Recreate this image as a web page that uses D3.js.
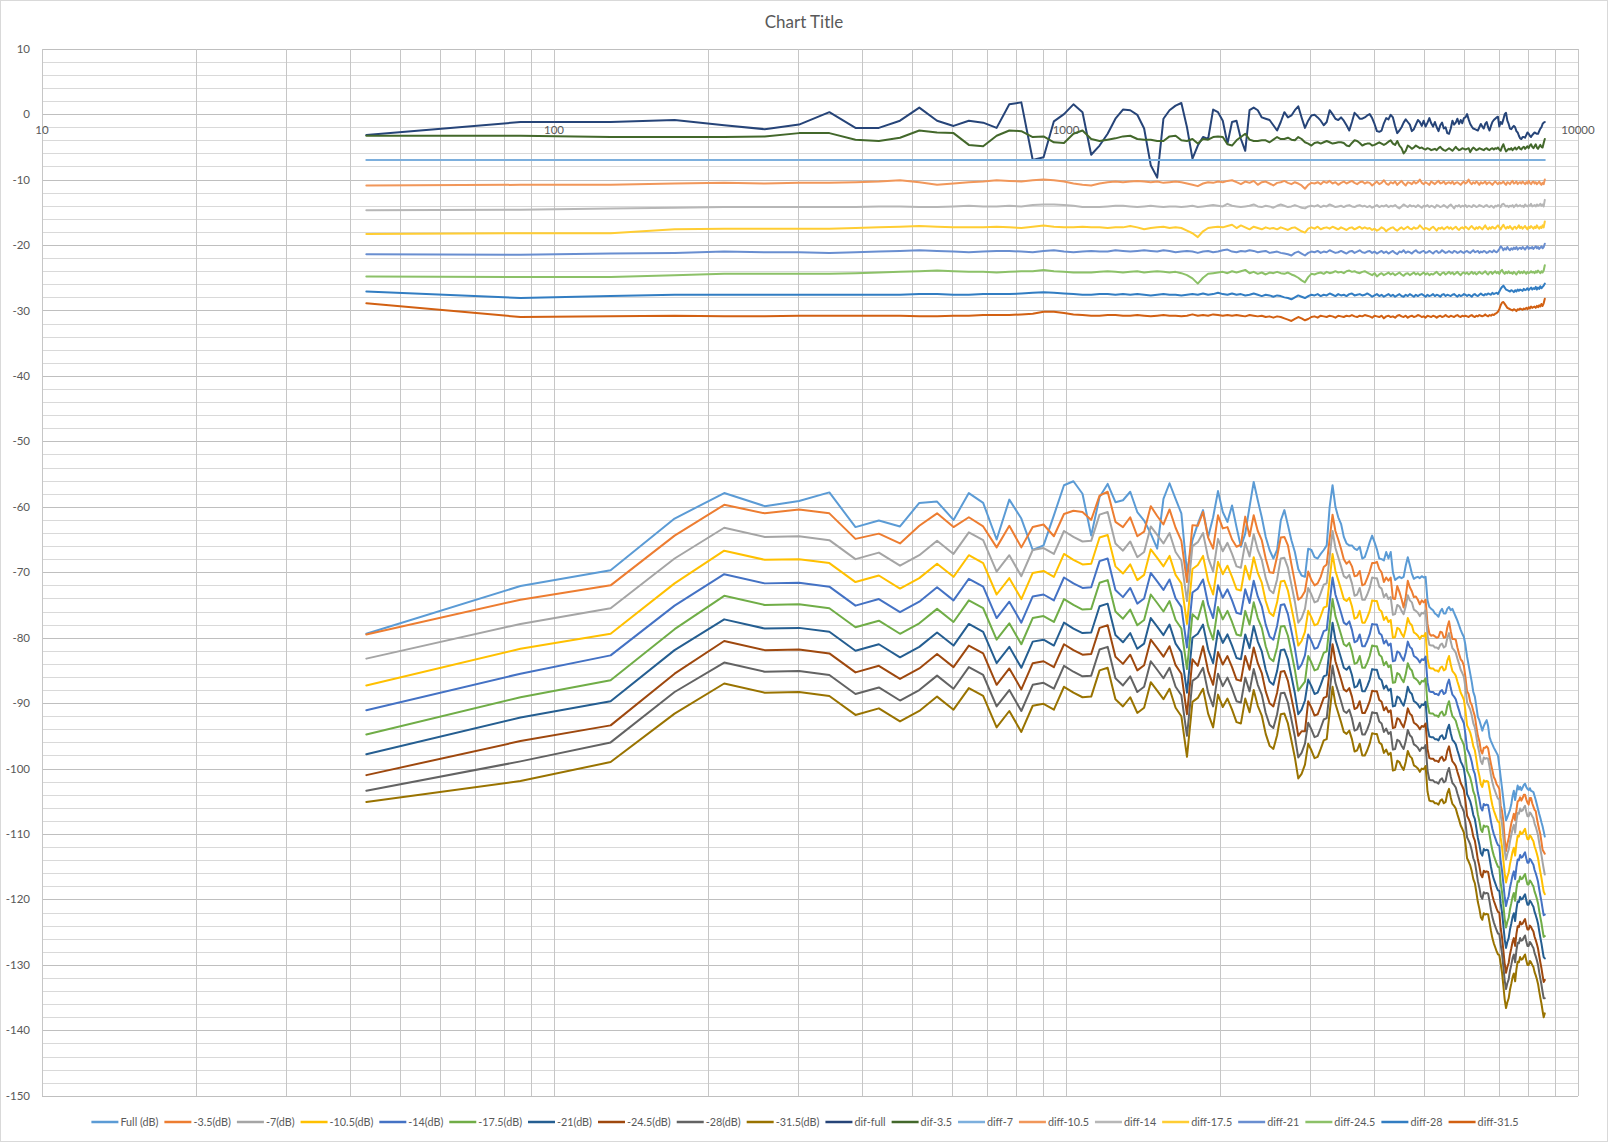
<!DOCTYPE html>
<html>
<head>
<meta charset="utf-8">
<title>Chart Title</title>
<script src="https://cdn.jsdelivr.net/npm/d3@7"></script>
<style>
  body { margin: 0; background: #fff; }
  text { font-family: Lato, "Open Sans", sans-serif; fill: #595959; }
</style>
</head>
<body>
<svg id="chart" width="1608" height="1142"></svg>
<script>
// FFT bin centres (Hz), 44.1 kHz / 1024 points, bins 1..200
var freqHz = [
  43,86,129,172,215,258,301,345,388,431,
  474,517,560,603,646,689,732,775,818,861,
  904,947,991,1034,1077,1120,1163,1206,1249,1292,
  1335,1378,1421,1464,1507,1550,1593,1637,1680,1723,
  1766,1809,1852,1895,1938,1981,2024,2067,2110,2153,
  2196,2239,2283,2326,2369,2412,2455,2498,2541,2584,
  2627,2670,2713,2756,2799,2842,2885,2929,2972,3015,
  3058,3101,3144,3187,3230,3273,3316,3359,3402,3445,
  3488,3531,3575,3618,3661,3704,3747,3790,3833,3876,
  3919,3962,4005,4048,4091,4134,4177,4221,4264,4307,
  4350,4393,4436,4479,4522,4565,4608,4651,4694,4737,
  4780,4823,4867,4910,4953,4996,5039,5082,5125,5168,
  5211,5254,5297,5340,5383,5426,5469,5513,5556,5599,
  5642,5685,5728,5771,5814,5857,5900,5943,5986,6029,
  6072,6115,6159,6202,6245,6288,6331,6374,6417,6460,
  6503,6546,6589,6632,6675,6718,6761,6804,6848,6891,
  6934,6977,7020,7063,7106,7149,7192,7235,7278,7321,
  7364,7407,7450,7494,7537,7580,7623,7666,7709,7752,
  7795,7838,7881,7924,7967,8010,8053,8096,8140,8183,
  8226,8269,8312,8355,8398,8441,8484,8527,8570,8613
];

var fullDb = [
  -79.4,-72.1,-69.7,-61.8,-57.9,-59.9,-59.1,-57.8,-63.1,-62.1,
  -63.0,-59.4,-59.2,-62.0,-57.9,-59.4,-65.0,-58.9,-61.8,-66.6,
  -65.9,-61.3,-56.7,-56.1,-58.0,-64.4,-58.5,-56.5,-59.3,-59.0,
  -57.7,-60.8,-62.1,-64.1,-66.4,-58.8,-56.4,-58.8,-61.0,-70.0,
  -65.1,-62.6,-60.5,-64.6,-61.6,-57.6,-60.8,-62.3,-59.8,-63.1,
  -66.1,-64.1,-60.0,-56.2,-59.0,-61.6,-64.6,-66.6,-67.9,-66.6,
  -62.1,-60.5,-62.8,-65.1,-66.9,-69.5,-70.5,-70.7,-66.4,-66.6,
  -67.7,-67.9,-67.2,-66.6,-65.9,-60.0,-56.7,-60.0,-61.6,-62.6,
  -64.6,-65.6,-65.9,-65.9,-66.4,-66.6,-66.1,-67.9,-67.7,-66.6,
  -65.4,-64.4,-65.4,-66.5,-67.9,-68.0,-68.2,-66.9,-67.9,-66.9,
  -70.0,-71.2,-70.9,-70.7,-70.9,-70.7,-69.0,-67.7,-68.9,-70.2,
  -71.0,-70.8,-70.7,-70.9,-70.6,-70.8,-70.7,-74.3,-75.3,-75.6,
  -75.8,-76.3,-76.5,-76.8,-76.0,-75.6,-76.3,-76.3,-75.6,-75.3,
  -75.8,-75.6,-76.2,-76.8,-77.4,-78.1,-78.8,-79.4,-79.9,-81.2,
  -82.9,-84.2,-85.5,-86.8,-88.3,-89.0,-90.5,-92.1,-92.6,-93.4,
  -94.2,-93.5,-93.0,-92.6,-93.5,-95.2,-95.8,-96.3,-96.8,-97.2,
  -97.6,-98.0,-99.6,-101.3,-103.0,-104.7,-106.4,-107.9,-107.4,-106.9,
  -106.3,-105.5,-104.2,-103.4,-104.8,-103.6,-102.6,-103.2,-102.8,-103.3,
  -102.9,-102.5,-102.3,-102.8,-103.1,-103.3,-103.0,-103.4,-103.5,-103.6,
  -104.2,-104.8,-105.5,-106.2,-106.9,-107.5,-108.2,-108.8,-109.6,-110.4
];

var m35Db = [
  -79.5,-74.2,-72.0,-64.4,-59.7,-61.0,-60.4,-61.0,-64.9,-64.1,
  -65.6,-62.9,-61.0,-63.1,-61.6,-63.0,-66.2,-62.9,-66.2,-63.1,
  -62.7,-64.5,-61.1,-60.6,-60.8,-62.0,-58.3,-57.7,-62.3,-63.1,
  -61.6,-64.5,-63.8,-59.9,-61.4,-62.7,-60.4,-63.2,-65.2,-71.5,
  -62.8,-62.9,-60.8,-64.7,-66.4,-61.3,-63.3,-63.1,-65.0,-66.1,
  -65.8,-61.5,-64.5,-61.3,-63.7,-65.1,-67.9,-70.0,-70.1,-67.6,
  -64.7,-64.6,-65.9,-68.8,-71.5,-74.2,-73.8,-72.9,-69.9,-71.2,
  -72.0,-71.7,-70.7,-69.2,-68.8,-64.9,-61.2,-63.7,-65.0,-66.4,
  -68.0,-68.7,-68.3,-69.1,-70.6,-70.5,-69.8,-72.0,-71.8,-70.9,
  -69.9,-68.6,-68.6,-68.4,-69.5,-70.0,-71.5,-70.8,-71.3,-70.8,
  -74.0,-74.1,-72.1,-73.0,-74.1,-75.4,-73.8,-71.3,-72.3,-72.9,
  -73.8,-73.7,-74.2,-74.9,-74.3,-74.6,-74.2,-77.9,-79.4,-79.7,
  -79.6,-79.8,-80.0,-79.9,-79.1,-79.2,-80.0,-79.9,-78.4,-77.5,
  -79.0,-80.2,-80.2,-80.3,-81.5,-82.5,-83.3,-83.6,-84.3,-86.1,
  -88.2,-88.6,-89.8,-90.3,-91.2,-92.0,-93.6,-95.0,-95.8,-97.2,
  -97.7,-96.8,-96.8,-96.6,-96.9,-98.2,-99.3,-100.3,-101.3,-101.7,
  -102.4,-102.7,-103.1,-105.7,-106.5,-108.1,-110.8,-112.6,-111.5,-110.7,
  -109.5,-108.4,-107.7,-106.9,-107.9,-106.4,-105.0,-104.9,-104.4,-104.9,
  -104.5,-104.0,-104.0,-104.7,-105.2,-105.5,-104.5,-104.5,-105.3,-105.8,
  -106.3,-106.5,-107.6,-108.5,-109.3,-110.0,-111.2,-112.4,-112.7,-113.0
];

var m7Db = [
  -83.2,-77.9,-75.5,-67.9,-63.2,-64.6,-64.5,-65.1,-68.0,-67.0,
  -69.0,-67.4,-65.2,-67.2,-63.9,-65.1,-69.9,-67.4,-70.6,-66.6,
  -66.3,-67.2,-63.7,-64.6,-65.3,-65.2,-61.2,-60.8,-65.6,-66.7,
  -65.3,-67.7,-66.9,-63.0,-64.3,-65.6,-64.0,-66.9,-68.2,-74.4,
  -66.0,-65.4,-64.0,-67.8,-69.9,-64.9,-66.8,-65.5,-67.2,-69.1,
  -69.3,-65.5,-67.6,-64.2,-66.6,-68.1,-70.9,-72.7,-73.2,-71.1,
  -67.9,-67.8,-69.3,-71.9,-74.5,-77.7,-77.0,-75.6,-72.4,-73.4,
  -74.6,-74.4,-73.2,-71.9,-71.7,-67.6,-63.7,-66.3,-67.7,-69.1,
  -70.6,-70.9,-70.4,-71.7,-73.6,-73.4,-72.4,-74.2,-74.2,-73.4,
  -72.4,-70.8,-70.9,-70.9,-72.2,-72.5,-73.8,-73.3,-74.1,-73.8,
  -76.5,-76.4,-75.0,-75.2,-75.9,-76.4,-75.2,-73.5,-74.3,-74.6,
  -75.7,-75.9,-76.2,-76.7,-76.2,-76.3,-75.8,-79.7,-81.1,-81.2,
  -81.2,-81.5,-81.5,-81.7,-81.1,-80.9,-81.5,-81.3,-80.0,-79.3,
  -80.6,-81.6,-81.9,-82.3,-83.2,-84.0,-84.9,-85.4,-86.0,-87.7,
  -89.9,-90.4,-91.0,-91.9,-93.1,-93.7,-95.1,-96.6,-97.6,-98.9,
  -99.3,-98.3,-98.5,-98.4,-98.5,-99.7,-101.0,-102.1,-102.9,-103.5,
  -104.1,-104.6,-104.7,-107.1,-108.5,-110.5,-112.6,-113.9,-113.0,-112.4,
  -111.1,-110.2,-109.2,-108.6,-109.8,-108.0,-106.8,-106.9,-106.1,-106.5,
  -106.4,-106.0,-105.7,-106.6,-107.3,-107.3,-106.7,-106.9,-107.3,-107.6,
  -108.4,-108.9,-109.5,-110.2,-111.3,-112.3,-113.2,-114.3,-115.3,-116.2
];

var m105Db = [
  -87.3,-81.7,-79.4,-71.7,-66.7,-68.1,-68.0,-68.6,-71.5,-70.5,
  -72.5,-70.9,-68.7,-70.7,-67.4,-68.6,-73.4,-70.9,-74.1,-70.1,
  -69.8,-70.7,-67.2,-68.1,-68.8,-68.7,-64.7,-64.3,-69.1,-70.2,
  -68.8,-71.2,-70.4,-66.5,-67.8,-69.1,-67.5,-70.4,-71.7,-77.9,
  -69.5,-68.9,-67.5,-71.3,-73.4,-68.4,-70.3,-69.0,-70.7,-72.6,
  -72.8,-69.0,-71.1,-67.7,-70.1,-71.6,-74.4,-76.2,-76.7,-74.6,
  -71.4,-71.3,-72.8,-75.4,-78.0,-81.2,-80.5,-79.1,-75.9,-76.9,
  -78.1,-77.9,-76.7,-75.4,-75.2,-71.1,-67.2,-69.8,-71.2,-72.6,
  -74.1,-74.4,-73.9,-75.2,-77.1,-76.9,-75.9,-77.7,-77.7,-76.9,
  -75.9,-74.3,-74.4,-74.4,-75.7,-76.0,-77.3,-76.8,-77.6,-77.3,
  -80.0,-79.9,-78.5,-78.7,-79.4,-79.9,-78.7,-77.0,-77.8,-78.1,
  -79.2,-79.4,-79.7,-80.2,-79.7,-79.8,-79.3,-83.2,-84.6,-84.7,
  -84.7,-85.0,-85.0,-85.2,-84.6,-84.4,-85.0,-84.8,-83.5,-82.8,
  -84.1,-85.1,-85.4,-85.8,-86.7,-87.5,-88.4,-88.9,-89.5,-91.2,
  -93.4,-93.9,-94.5,-95.4,-96.6,-97.2,-98.6,-100.1,-101.1,-102.4,
  -102.8,-101.8,-102.0,-101.9,-102.0,-103.2,-104.5,-105.6,-106.4,-107.0,
  -107.6,-108.1,-108.2,-110.6,-112.0,-114.0,-116.1,-117.4,-116.5,-115.9,
  -114.6,-113.7,-112.7,-112.1,-113.3,-111.5,-110.3,-110.4,-109.6,-110.0,
  -109.9,-109.5,-109.2,-110.1,-110.8,-110.8,-110.2,-110.4,-110.8,-111.1,
  -111.9,-112.4,-113.0,-113.7,-114.8,-115.8,-116.7,-117.8,-118.8,-119.2
];

var m14Db = [
  -91.1,-85.5,-82.7,-75.1,-70.3,-71.7,-71.6,-72.2,-75.1,-74.1,
  -76.1,-74.5,-72.3,-74.3,-71.0,-72.2,-77.0,-74.5,-77.7,-73.7,
  -73.4,-74.3,-70.8,-71.7,-72.4,-72.3,-68.3,-67.9,-72.7,-73.8,
  -72.4,-74.8,-74.0,-70.1,-71.4,-72.7,-71.1,-74.0,-75.3,-81.5,
  -73.1,-72.5,-71.1,-74.9,-77.0,-72.0,-73.9,-72.6,-74.3,-76.2,
  -76.4,-72.6,-74.7,-71.3,-73.7,-75.2,-78.0,-79.8,-80.3,-78.2,
  -75.0,-74.9,-76.4,-79.0,-81.6,-84.8,-84.1,-82.7,-79.5,-80.5,
  -81.7,-81.5,-80.3,-79.0,-78.8,-74.7,-70.8,-73.4,-74.8,-76.2,
  -77.7,-78.0,-77.5,-78.8,-80.7,-80.5,-79.5,-81.3,-81.3,-80.5,
  -79.5,-77.9,-78.0,-78.0,-79.3,-79.6,-80.9,-80.4,-81.2,-80.9,
  -83.6,-83.5,-82.1,-82.3,-83.0,-83.5,-82.3,-80.6,-81.4,-81.7,
  -82.8,-83.0,-83.3,-83.8,-83.3,-83.4,-82.9,-86.8,-88.2,-88.3,
  -88.3,-88.6,-88.6,-88.8,-88.2,-88.0,-88.6,-88.4,-87.1,-86.4,
  -87.7,-88.7,-89.0,-89.4,-90.3,-91.1,-92.0,-92.5,-93.1,-94.8,
  -97.0,-97.5,-98.1,-99.0,-100.2,-100.8,-102.2,-103.7,-104.7,-106.0,
  -106.4,-105.4,-105.6,-105.5,-105.6,-106.8,-108.1,-109.2,-110.0,-110.6,
  -111.2,-111.7,-111.8,-114.2,-115.6,-117.6,-119.7,-121.0,-120.1,-119.5,
  -118.2,-117.3,-116.3,-115.7,-116.9,-115.1,-113.9,-114.0,-113.2,-113.6,
  -113.5,-113.1,-112.8,-113.7,-114.4,-114.4,-113.8,-114.0,-114.4,-114.7,
  -115.5,-116.0,-116.6,-117.3,-118.4,-119.4,-120.3,-121.4,-122.4,-122.3
];

var m175Db = [
  -94.8,-89.1,-86.5,-78.7,-73.6,-75.0,-74.9,-75.5,-78.4,-77.4,
  -79.4,-77.8,-75.6,-77.6,-74.3,-75.5,-80.3,-77.8,-81.0,-77.0,
  -76.7,-77.6,-74.1,-75.0,-75.7,-75.6,-71.6,-71.2,-76.0,-77.1,
  -75.7,-78.1,-77.3,-73.4,-74.7,-76.0,-74.4,-77.3,-78.6,-84.8,
  -76.4,-77.2,-74.4,-78.2,-80.3,-75.3,-77.2,-75.9,-77.6,-79.5,
  -79.7,-75.9,-78.0,-74.6,-77.0,-78.5,-81.3,-83.1,-83.6,-81.5,
  -78.3,-78.2,-79.7,-82.3,-84.9,-88.1,-87.4,-86.7,-82.8,-83.8,
  -85.0,-84.8,-83.6,-82.3,-82.1,-78.0,-74.1,-76.7,-78.1,-79.5,
  -81.0,-81.3,-80.8,-82.1,-84.0,-83.8,-82.8,-84.6,-84.6,-83.8,
  -82.8,-81.2,-81.3,-81.3,-82.6,-82.9,-84.2,-83.7,-84.5,-84.2,
  -86.9,-86.8,-85.4,-85.6,-86.3,-86.8,-85.6,-83.9,-84.7,-85.0,
  -86.1,-86.3,-86.6,-87.1,-86.6,-86.7,-86.2,-90.1,-91.5,-91.6,
  -91.6,-91.9,-91.9,-92.1,-91.5,-91.3,-91.9,-91.7,-90.4,-89.7,
  -91.0,-92.0,-92.3,-92.7,-93.6,-94.4,-95.3,-95.8,-96.4,-98.1,
  -100.3,-100.8,-101.4,-102.3,-103.5,-104.1,-105.5,-107.0,-108.0,-109.3,
  -109.7,-108.7,-108.9,-108.8,-108.9,-110.1,-111.4,-112.5,-113.3,-113.9,
  -114.5,-115.0,-115.1,-117.5,-118.9,-120.9,-123.0,-124.3,-123.4,-122.8,
  -121.5,-120.6,-119.6,-119.0,-120.2,-118.4,-117.2,-117.3,-116.5,-116.9,
  -116.8,-116.4,-116.1,-117.0,-117.7,-117.7,-117.1,-117.3,-117.7,-118.0,
  -118.8,-119.3,-119.9,-120.6,-121.7,-122.7,-123.6,-124.7,-125.7,-125.6
];

var m21Db = [
  -97.8,-92.2,-89.7,-81.9,-77.2,-78.6,-78.5,-79.1,-82.0,-81.0,
  -83.0,-81.4,-79.2,-81.2,-77.9,-79.1,-83.9,-81.4,-84.6,-80.6,
  -80.3,-81.2,-77.7,-78.6,-79.3,-79.2,-75.2,-74.8,-79.6,-80.7,
  -79.3,-81.7,-80.9,-77.0,-78.3,-79.6,-78.0,-80.9,-82.2,-88.4,
  -80.0,-79.4,-78.0,-81.8,-83.9,-78.9,-80.8,-79.5,-81.2,-83.1,
  -83.3,-79.5,-81.6,-78.2,-80.6,-82.1,-84.9,-86.7,-87.2,-85.1,
  -81.9,-81.8,-83.3,-85.9,-88.5,-91.7,-91.0,-89.6,-86.4,-87.4,
  -88.6,-88.4,-87.2,-85.9,-85.7,-81.6,-77.7,-80.3,-81.7,-83.1,
  -84.6,-84.9,-84.4,-85.7,-87.6,-87.4,-86.4,-88.2,-88.2,-87.4,
  -86.4,-84.8,-84.9,-84.9,-86.2,-86.5,-87.8,-87.3,-88.1,-87.8,
  -90.5,-90.4,-89.0,-89.2,-89.9,-90.4,-89.2,-87.5,-88.3,-88.6,
  -89.7,-89.9,-90.2,-90.7,-90.2,-90.3,-89.8,-93.7,-95.1,-95.2,
  -95.2,-95.5,-95.5,-95.7,-95.1,-94.9,-95.5,-95.3,-94.0,-93.3,
  -94.6,-95.6,-95.9,-96.3,-97.2,-98.0,-98.9,-99.4,-100.0,-101.7,
  -103.9,-104.4,-105.0,-105.9,-107.1,-107.7,-109.1,-110.6,-111.6,-112.9,
  -113.3,-112.3,-112.5,-112.4,-112.5,-113.7,-115.0,-116.1,-116.9,-117.5,
  -118.1,-118.6,-118.7,-120.6,-122.0,-124.0,-126.1,-127.4,-126.5,-125.9,
  -124.6,-123.7,-122.7,-122.1,-123.3,-121.5,-120.3,-120.4,-119.6,-120.0,
  -119.9,-119.5,-119.2,-120.1,-120.8,-120.8,-120.2,-120.4,-120.8,-121.1,
  -121.9,-122.4,-123.0,-123.7,-124.8,-125.8,-126.7,-127.8,-128.8,-129.0
];

var m245Db = [
  -101.0,-95.8,-93.4,-85.5,-80.5,-81.9,-81.8,-82.4,-85.3,-84.3,
  -86.3,-84.7,-82.5,-84.5,-81.2,-82.4,-87.2,-84.7,-87.9,-83.9,
  -83.6,-84.5,-81.0,-81.9,-82.6,-82.5,-78.5,-78.1,-82.9,-84.0,
  -82.6,-85.0,-84.2,-80.3,-81.6,-82.9,-81.3,-84.2,-85.5,-91.7,
  -83.3,-84.3,-81.3,-85.1,-87.2,-82.2,-84.1,-82.8,-84.5,-86.4,
  -86.6,-82.8,-84.9,-81.5,-83.9,-85.4,-88.2,-90.0,-90.5,-88.4,
  -85.2,-85.1,-86.6,-89.2,-91.8,-95.0,-94.3,-94.3,-89.7,-90.7,
  -91.9,-91.7,-90.5,-89.2,-89.0,-84.9,-81.0,-83.6,-85.0,-86.4,
  -87.9,-88.2,-87.7,-89.0,-90.9,-90.7,-89.7,-91.5,-91.5,-90.7,
  -89.7,-88.1,-88.2,-88.2,-89.5,-89.8,-91.1,-90.6,-91.4,-91.1,
  -93.8,-93.7,-92.3,-92.5,-93.2,-93.7,-92.5,-90.8,-91.6,-91.9,
  -93.0,-93.2,-93.5,-94.0,-93.5,-93.6,-93.1,-97.0,-98.4,-98.5,
  -98.5,-98.8,-98.8,-99.0,-98.4,-98.2,-98.8,-98.6,-97.3,-96.6,
  -97.9,-98.9,-99.2,-99.6,-100.5,-101.3,-102.2,-102.7,-103.3,-105.0,
  -107.2,-107.7,-108.3,-109.2,-110.4,-111.0,-112.4,-113.9,-114.9,-116.2,
  -116.6,-115.6,-115.8,-115.7,-115.8,-117.0,-118.3,-119.4,-120.2,-120.8,
  -121.4,-121.9,-122.0,-124.4,-125.8,-127.8,-129.9,-131.2,-130.3,-129.7,
  -128.4,-127.5,-126.5,-125.9,-127.1,-125.3,-124.1,-124.2,-123.4,-123.8,
  -123.7,-123.3,-123.0,-123.9,-124.6,-124.6,-124.0,-124.2,-124.6,-124.9,
  -125.7,-126.2,-126.8,-127.5,-128.6,-129.6,-130.5,-131.6,-132.6,-132.3
];

var m28Db = [
  -103.4,-98.9,-96.0,-88.3,-83.8,-85.2,-85.1,-85.7,-88.6,-87.6,
  -89.6,-88.0,-85.8,-87.8,-84.5,-85.7,-90.5,-88.0,-91.2,-87.2,
  -86.9,-87.8,-84.3,-85.2,-85.9,-85.8,-81.8,-81.4,-86.2,-87.3,
  -85.9,-88.3,-87.5,-83.6,-84.9,-86.2,-84.6,-87.5,-88.8,-95.0,
  -86.6,-86.0,-84.6,-88.4,-90.5,-85.5,-87.4,-86.1,-87.8,-89.7,
  -89.9,-86.1,-88.2,-84.8,-87.2,-88.7,-91.5,-93.3,-93.8,-91.7,
  -88.5,-88.4,-89.9,-92.5,-95.1,-98.3,-97.6,-96.2,-93.0,-94.0,
  -95.2,-95.0,-93.8,-92.5,-92.3,-88.2,-84.3,-86.9,-88.3,-89.7,
  -91.2,-91.5,-91.0,-92.3,-94.2,-94.0,-93.0,-94.8,-94.8,-94.0,
  -93.0,-91.4,-91.5,-91.5,-92.8,-93.1,-94.4,-93.9,-94.7,-94.4,
  -97.1,-97.0,-95.6,-95.8,-96.5,-97.0,-95.8,-94.1,-94.9,-95.2,
  -96.3,-96.5,-96.8,-97.3,-96.8,-96.9,-96.4,-100.3,-101.7,-101.8,
  -101.8,-102.1,-102.1,-102.3,-101.7,-101.5,-102.1,-101.9,-100.6,-99.9,
  -101.2,-102.2,-102.5,-102.9,-103.8,-104.6,-105.5,-106.0,-106.6,-108.3,
  -110.5,-111.0,-111.6,-112.5,-113.7,-114.3,-115.7,-117.2,-118.2,-119.5,
  -119.9,-118.9,-119.1,-119.0,-119.1,-120.3,-121.6,-122.7,-123.5,-124.1,
  -124.7,-125.2,-125.3,-126.9,-128.3,-130.3,-132.4,-133.7,-132.8,-132.2,
  -130.9,-130.0,-129.0,-128.4,-129.6,-127.8,-126.6,-126.7,-125.9,-126.3,
  -126.2,-125.8,-125.5,-126.4,-127.1,-127.1,-126.5,-126.7,-127.1,-127.4,
  -128.2,-128.7,-129.3,-130.0,-131.1,-132.1,-133.0,-134.1,-135.1,-135.1
];

var m315Db = [
  -105.1,-101.9,-99.0,-91.6,-87.0,-88.4,-88.3,-88.9,-91.8,-90.8,
  -92.8,-91.2,-89.0,-91.0,-87.7,-88.9,-93.7,-91.2,-94.4,-90.4,
  -90.1,-91.0,-87.5,-88.4,-89.1,-89.0,-85.0,-84.6,-89.4,-90.5,
  -89.1,-91.5,-90.7,-86.8,-88.1,-89.4,-87.8,-90.7,-92.0,-98.2,
  -89.8,-89.2,-87.8,-91.6,-93.7,-88.7,-90.6,-89.3,-91.0,-92.9,
  -93.1,-89.3,-91.4,-88.0,-90.4,-91.9,-94.7,-96.5,-97.0,-94.9,
  -91.7,-91.6,-93.1,-95.7,-98.3,-101.5,-100.8,-99.4,-96.2,-97.2,
  -98.4,-98.2,-97.0,-95.7,-95.5,-91.4,-87.5,-90.1,-91.5,-92.9,
  -94.4,-94.7,-94.2,-95.5,-97.4,-97.2,-96.2,-98.0,-98.0,-97.2,
  -96.2,-94.6,-94.7,-94.7,-96.0,-96.3,-97.6,-97.1,-97.9,-97.6,
  -100.3,-100.2,-98.8,-99.0,-99.7,-100.2,-99.0,-97.3,-98.1,-98.4,
  -99.5,-99.7,-100.0,-100.5,-100.0,-100.1,-99.6,-103.5,-104.9,-105.0,
  -105.0,-105.3,-105.3,-105.5,-104.9,-104.7,-105.3,-105.1,-103.8,-103.1,
  -104.4,-105.4,-105.7,-106.1,-107.0,-107.8,-108.7,-109.2,-109.8,-111.5,
  -113.7,-114.2,-114.8,-115.7,-116.9,-117.5,-118.9,-120.4,-121.4,-122.7,
  -123.1,-122.1,-122.3,-122.2,-122.3,-123.5,-124.8,-125.9,-126.7,-127.3,
  -127.9,-128.4,-128.5,-129.8,-131.2,-133.2,-135.3,-136.6,-135.7,-135.1,
  -133.8,-132.9,-131.9,-131.3,-132.5,-130.7,-129.5,-129.6,-128.8,-129.2,
  -129.1,-128.7,-128.4,-129.3,-130.0,-130.0,-129.4,-129.6,-130.0,-130.3,
  -131.1,-131.6,-132.2,-132.9,-134.0,-135.0,-135.9,-137.0,-138.0,-137.4
];

var difFull = [
  -3.2,-1.2,-1.2,-0.9,-1.7,-2.3,-1.6,0.3,-2.1,-2.1,
  -1.0,1.0,-1.0,-1.8,-1.0,-1.3,-2.1,1.5,1.8,-7.0,
  -6.6,-1.1,0.0,1.5,0.3,-6.2,-4.8,-3.0,-0.7,0.7,
  0.6,-0.1,-2.2,-7.8,-9.7,-0.7,0.6,1.3,1.7,-2.0,
  -6.8,-4.8,-3.5,-3.8,0.7,0.3,-1.0,-4.5,-1.2,-1.0,
  -3.8,-5.6,0.6,1.0,0.6,-0.5,-0.7,-0.9,-1.7,-2.5,
  -1.2,0.3,-0.5,-0.2,0.6,1.2,-0.5,-2.1,-1.0,-0.2,
  -0.1,-0.5,-1.0,-1.7,-1.2,0.6,0.0,-0.7,-0.9,-0.5,
  -1.0,-1.7,-2.5,-1.2,0.2,-0.2,-0.7,-0.7,-0.5,-0.2,
  0.0,-0.6,-1.5,-2.6,-2.7,-2.5,-1.4,-0.6,-0.8,-0.1,
  -0.5,-1.8,-2.9,-2.5,-2.0,-1.3,-0.8,-1.2,-1.6,-2.6,
  -2.3,-1.6,-0.9,-1.2,-1.8,-1.0,-1.9,-1.3,-0.6,-1.4,
  -1.9,-1.2,-2.0,-2.6,-1.7,-1.3,-2.2,-2.0,-2.9,-3.0,
  -2.2,-1.0,-1.6,-1.3,-0.7,-1.5,-0.9,-1.4,-0.6,-0.5,
  0.0,-0.8,-1.5,-1.9,-2.2,-2.3,-2.4,-2.5,-2.0,-1.5,
  -1.9,-2.2,-1.5,-1.2,-2.0,-2.5,-1.8,-1.2,-0.9,-0.7,
  -0.5,-0.4,-1.9,-1.2,-1.5,-0.8,0.0,0.2,-1.0,-1.5,
  -2.2,-2.3,-2.0,-1.8,-2.0,-2.6,-2.8,-3.3,-3.7,-3.8,
  -3.5,-3.5,-3.6,-3.2,-2.8,-3.0,-3.3,-3.5,-3.2,-3.0,
  -2.8,-2.9,-3.0,-3.0,-2.6,-2.2,-2.0,-1.5,-1.3,-1.2
];

var dif35 = [
  -3.3,-3.3,-3.5,-3.5,-3.5,-3.4,-2.9,-2.9,-3.9,-4.1,
  -3.6,-2.5,-2.8,-2.9,-4.7,-4.9,-3.3,-2.5,-2.6,-3.5,
  -3.4,-4.3,-4.4,-3.0,-2.5,-3.8,-4.1,-3.9,-3.7,-3.4,
  -3.3,-3.8,-3.9,-3.9,-4.1,-4.1,-3.4,-3.3,-4.0,-4.1,
  -3.8,-4.5,-3.8,-3.9,-3.5,-3.4,-3.5,-4.6,-4.8,-4.0,
  -3.5,-3.0,-3.9,-4.1,-4.1,-4.0,-4.0,-4.3,-3.9,-3.5,
  -3.8,-3.8,-3.6,-3.9,-4.0,-3.5,-3.8,-4.3,-4.5,-4.8,
  -4.4,-4.3,-4.5,-4.3,-4.1,-4.3,-4.5,-4.4,-4.3,-4.3,
  -4.4,-4.8,-4.9,-4.4,-4.0,-4.1,-4.4,-4.8,-4.6,-4.5,
  -4.5,-4.8,-4.7,-4.5,-4.3,-4.5,-4.7,-4.5,-4.2,-4.0,
  -4.5,-4.7,-4.1,-4.8,-5.2,-6.0,-5.6,-4.8,-5.0,-5.3,
  -5.1,-4.8,-5.0,-5.2,-5.1,-5.3,-5.4,-5.2,-5.3,-5.5,
  -5.4,-5.3,-5.5,-5.2,-5.0,-5.3,-5.5,-5.6,-5.4,-5.2,
  -5.4,-5.6,-5.3,-5.0,-5.3,-5.5,-5.4,-5.2,-5.3,-5.4,
  -5.3,-5.2,-5.8,-5.4,-5.1,-5.3,-5.5,-5.4,-5.2,-5.3,
  -5.4,-5.5,-5.3,-5.2,-5.4,-5.5,-5.3,-5.2,-5.4,-5.2,
  -5.3,-5.1,-5.4,-5.6,-5.0,-4.6,-5.2,-5.7,-5.5,-5.3,
  -5.4,-5.2,-5.5,-5.3,-5.1,-5.4,-5.2,-5.0,-5.3,-5.4,
  -5.1,-5.0,-5.3,-5.1,-4.9,-5.2,-4.8,-4.6,-5.0,-5.2,
  -4.9,-4.6,-5.1,-5.3,-5.0,-4.7,-5.0,-5.1,-4.4,-3.8
];

var diff7 = [
  -7,-7,-7,-7,-7,-7,-7,-7,-7,-7, -7,-7,-7,-7,-7,-7,-7,-7,-7,-7,
  -7,-7,-7,-7,-7,-7,-7,-7,-7,-7, -7,-7,-7,-7,-7,-7,-7,-7,-7,-7,
  -7,-7,-7,-7,-7,-7,-7,-7,-7,-7, -7,-7,-7,-7,-7,-7,-7,-7,-7,-7,
  -7,-7,-7,-7,-7,-7,-7,-7,-7,-7, -7,-7,-7,-7,-7,-7,-7,-7,-7,-7,
  -7,-7,-7,-7,-7,-7,-7,-7,-7,-7, -7,-7,-7,-7,-7,-7,-7,-7,-7,-7,
  -7,-7,-7,-7,-7,-7,-7,-7,-7,-7, -7,-7,-7,-7,-7,-7,-7,-7,-7,-7,
  -7,-7,-7,-7,-7,-7,-7,-7,-7,-7, -7,-7,-7,-7,-7,-7,-7,-7,-7,-7,
  -7,-7,-7,-7,-7,-7,-7,-7,-7,-7, -7,-7,-7,-7,-7,-7,-7,-7,-7,-7,
  -7,-7,-7,-7,-7,-7,-7,-7,-7,-7, -7,-7,-7,-7,-7,-7,-7,-7,-7,-7,
  -7,-7,-7,-7,-7,-7,-7,-7,-7,-7, -7,-7,-7,-7,-7,-7,-7,-7,-7,-7
];

var diff105 = [
  -10.9,-10.8,-10.8,-10.6,-10.5,-10.6,-10.5,-10.5,-10.4,-10.3,
  -10.1,-10.4,-10.8,-10.6,-10.4,-10.3,-10.1,-10.2,-10.3,-10.1,
  -10.0,-10.1,-10.3,-10.6,-10.8,-10.9,-10.6,-10.4,-10.3,-10.4,
  -10.3,-10.2,-10.3,-10.4,-10.3,-10.5,-10.4,-10.3,-10.4,-10.6,
  -10.8,-11.0,-10.6,-10.4,-10.5,-10.3,-10.4,-10.2,-10.1,-10.4,
  -10.7,-10.3,-10.5,-10.2,-10.8,-10.4,-10.3,-10.6,-10.9,-10.5,
  -10.4,-10.2,-10.5,-10.7,-10.4,-10.6,-10.9,-11.4,-10.8,-10.5,
  -10.6,-10.4,-10.7,-10.3,-10.5,-10.2,-10.6,-10.4,-10.8,-10.5,
  -10.3,-10.6,-10.4,-10.2,-10.5,-10.7,-10.4,-10.3,-10.6,-10.4,
  -10.5,-10.9,-10.6,-10.3,-10.7,-10.5,-10.1,-10.6,-10.8,-10.4,
  -10.6,-10.3,-10.8,-10.5,-10.2,-10.6,-10.9,-10.4,-10.5,-10.7,
  -10.3,-10.6,-10.4,-10.0,-10.5,-10.7,-10.4,-10.6,-10.8,-10.3,
  -10.5,-10.7,-10.4,-10.2,-10.6,-10.5,-10.3,-10.7,-10.5,-10.4,
  -10.6,-10.3,-10.7,-10.5,-10.4,-10.6,-10.8,-10.5,-10.3,-10.6,
  -10.4,-10.0,-10.5,-10.7,-10.4,-10.6,-10.3,-10.5,-10.8,-10.4,
  -10.6,-10.5,-10.3,-10.7,-10.5,-10.4,-10.6,-10.8,-10.5,-10.3,
  -10.5,-10.7,-10.4,-10.6,-10.5,-10.3,-10.6,-10.8,-10.4,-10.5,
  -10.7,-10.4,-10.2,-10.6,-10.5,-10.3,-10.7,-10.5,-10.4,-10.6,
  -10.3,-10.5,-10.7,-10.4,-10.6,-10.2,-10.5,-10.7,-10.4,-10.3,
  -10.6,-10.4,-10.7,-10.5,-10.3,-10.6,-10.8,-10.5,-10.7,-10.0
];

var diff14 = [
  -14.7,-14.6,-14.4,-14.3,-14.2,-14.2,-14.2,-14.2,-14.2,-14.1,
  -14.1,-14.2,-14.2,-14.1,-14.0,-14.1,-14.1,-14.0,-14.1,-13.9,
  -13.8,-13.8,-13.9,-14.0,-14.2,-14.2,-14.2,-14.1,-14.0,-14.0,
  -14.1,-14.2,-14.1,-14.0,-14.1,-14.2,-14.1,-14.1,-14.2,-14.1,
  -14.0,-14.2,-14.1,-14.0,-13.9,-14.0,-14.1,-13.7,-14.0,-14.1,
  -14.2,-14.1,-14.0,-13.8,-14.1,-14.2,-14.0,-14.1,-14.3,-14.0,
  -13.8,-14.0,-14.2,-14.1,-13.9,-14.1,-14.3,-14.4,-14.1,-14.0,
  -14.1,-13.9,-14.2,-14.0,-14.1,-13.8,-14.0,-14.2,-14.1,-14.0,
  -14.2,-14.0,-13.9,-14.1,-14.2,-14.0,-13.9,-14.1,-14.0,-14.2,
  -14.0,-14.3,-14.1,-13.9,-14.2,-14.0,-14.1,-13.9,-14.2,-14.0,
  -14.1,-13.9,-14.2,-14.4,-14.1,-13.8,-14.0,-14.2,-13.9,-14.1,
  -14.0,-14.2,-13.9,-14.1,-14.3,-14.0,-14.1,-13.9,-14.2,-14.0,
  -14.1,-14.3,-13.9,-14.0,-14.2,-14.1,-13.9,-14.1,-14.3,-14.0,
  -13.8,-14.1,-14.4,-14.0,-14.1,-13.9,-14.2,-14.0,-14.1,-13.9,
  -14.2,-14.0,-14.1,-14.2,-13.9,-14.0,-14.2,-14.1,-13.9,-14.0,
  -14.1,-14.2,-14.0,-13.9,-14.1,-14.2,-14.0,-14.1,-14.3,-14.0,
  -14.1,-13.9,-14.0,-14.2,-13.8,-13.7,-13.9,-14.1,-14.0,-14.2,
  -14.0,-14.1,-13.9,-14.2,-14.0,-13.8,-14.1,-14.0,-13.9,-14.1,
  -14.0,-14.2,-13.8,-14.0,-14.1,-13.9,-14.0,-13.7,-14.1,-14.0,
  -13.9,-14.1,-13.8,-14.0,-13.9,-13.7,-14.0,-13.8,-14.1,-13.1
];

var diff175 = [
  -18.3,-18.2,-18.2,-17.6,-17.5,-17.5,-17.5,-17.5,-17.4,-17.3,
  -17.2,-17.1,-17.2,-17.3,-17.3,-17.3,-17.2,-17.3,-17.4,-17.2,
  -17.0,-17.2,-17.3,-17.3,-17.2,-17.3,-17.3,-17.4,-17.3,-17.3,
  -17.1,-17.3,-17.6,-17.4,-17.3,-17.2,-17.4,-17.3,-17.4,-17.8,
  -18.2,-18.8,-17.9,-17.4,-17.3,-17.2,-17.3,-17.1,-16.9,-17.4,
  -17.0,-17.3,-17.6,-17.2,-17.4,-17.6,-17.3,-17.5,-17.4,-17.6,
  -17.3,-17.5,-17.7,-17.4,-17.3,-17.6,-17.9,-18.1,-17.5,-17.3,
  -17.5,-17.2,-17.6,-17.4,-17.3,-17.5,-17.2,-17.4,-17.6,-17.3,
  -17.5,-17.7,-17.4,-17.3,-17.6,-17.4,-17.2,-17.5,-17.3,-17.5,
  -17.4,-17.7,-17.5,-17.8,-17.6,-17.3,-17.5,-17.9,-17.6,-17.4,
  -17.3,-17.6,-17.8,-17.5,-17.3,-17.6,-17.4,-17.2,-17.5,-17.6,
  -17.3,-17.5,-17.4,-17.0,-17.3,-17.6,-17.4,-17.5,-17.7,-17.4,
  -17.2,-17.5,-17.8,-17.4,-17.5,-17.3,-17.6,-17.4,-17.2,-17.5,
  -17.3,-17.6,-17.4,-17.2,-17.5,-17.7,-17.4,-17.3,-17.5,-17.2,
  -17.4,-17.6,-17.3,-17.1,-17.4,-17.6,-17.3,-17.5,-17.2,-17.4,
  -17.6,-17.3,-17.0,-17.4,-17.6,-17.3,-17.5,-17.2,-17.4,-17.5,
  -17.2,-17.0,-17.3,-17.6,-17.2,-16.9,-17.3,-17.5,-17.2,-17.4,
  -17.1,-17.4,-17.6,-17.3,-17.2,-17.5,-17.3,-17.0,-17.4,-17.2,
  -17.5,-17.3,-17.1,-17.4,-17.6,-17.2,-17.4,-17.1,-17.3,-17.5,
  -17.2,-17.4,-17.0,-17.3,-17.5,-17.2,-17.4,-17.0,-17.3,-16.4
];

var diff21 = [
  -21.4,-21.5,-21.3,-21.2,-21.0,-21.1,-21.1,-21.2,-21.1,-21.0,
  -20.9,-20.8,-20.9,-21.0,-21.1,-21.0,-20.9,-20.9,-21.0,-21.1,
  -20.9,-20.8,-21.0,-21.1,-21.0,-20.9,-21.0,-21.0,-20.8,-20.9,
  -21.0,-20.9,-20.8,-20.9,-21.0,-20.8,-20.9,-21.1,-21.0,-20.9,
  -21.0,-21.2,-21.0,-20.9,-21.1,-21.0,-20.8,-20.7,-21.0,-21.1,
  -20.9,-21.0,-20.8,-20.9,-21.1,-21.0,-20.9,-21.2,-21.1,-21.0,
  -21.2,-21.3,-21.4,-21.6,-21.2,-21.0,-21.3,-21.6,-21.2,-21.0,
  -21.1,-20.9,-21.2,-21.0,-21.1,-20.8,-21.0,-21.2,-21.1,-20.9,
  -21.1,-21.3,-21.0,-20.9,-21.2,-21.0,-20.8,-21.1,-21.2,-21.0,
  -20.9,-21.2,-21.0,-21.3,-21.1,-20.9,-21.2,-21.0,-21.3,-21.1,
  -20.9,-21.2,-21.4,-21.0,-21.1,-20.8,-21.2,-21.0,-21.1,-21.3,
  -21.0,-20.8,-21.1,-21.2,-21.0,-20.9,-21.2,-21.1,-20.9,-21.1,
  -21.3,-21.0,-20.9,-21.2,-21.1,-20.8,-21.0,-21.2,-21.1,-20.9,
  -21.1,-21.2,-20.9,-21.0,-21.2,-21.1,-20.9,-21.1,-21.2,-21.0,
  -20.9,-21.1,-21.2,-21.0,-20.8,-21.1,-21.0,-20.9,-21.2,-21.0,
  -21.1,-20.9,-21.0,-21.2,-21.1,-20.9,-21.0,-21.1,-20.8,-21.0,
  -21.1,-20.9,-20.6,-20.2,-20.4,-20.8,-20.5,-20.7,-20.3,-20.6,
  -20.8,-20.5,-20.7,-20.4,-20.6,-20.3,-20.7,-20.5,-20.4,-20.6,
  -20.3,-20.5,-20.7,-20.4,-20.2,-20.6,-20.4,-20.5,-20.3,-20.6,
  -20.4,-20.2,-20.5,-20.3,-20.6,-20.4,-20.2,-20.5,-20.3,-19.8
];

var diff245 = [
  -24.8,-24.9,-24.9,-24.6,-24.4,-24.4,-24.4,-24.4,-24.3,-24.2,
  -24.1,-24.0,-23.9,-24.0,-24.1,-24.1,-24.2,-24.1,-24.0,-24.0,
  -23.8,-24.0,-24.1,-24.2,-24.2,-24.2,-24.1,-24.0,-24.1,-24.2,
  -24.1,-24.0,-24.2,-24.1,-24.0,-24.1,-24.2,-24.1,-24.3,-24.6,
  -25.1,-25.9,-25.0,-24.4,-24.3,-24.2,-24.1,-24.3,-24.0,-24.2,
  -24.0,-23.8,-24.3,-24.1,-24.4,-24.2,-24.5,-24.2,-24.3,-24.1,
  -24.3,-24.4,-24.2,-24.5,-24.7,-25.0,-25.4,-25.7,-24.9,-24.4,
  -24.5,-24.3,-24.2,-24.4,-24.1,-24.3,-24.2,-24.0,-24.2,-24.1,
  -24.3,-24.0,-23.9,-24.1,-24.0,-24.2,-24.3,-24.1,-24.0,-24.2,
  -24.4,-24.6,-24.3,-24.8,-24.5,-24.3,-24.6,-24.4,-24.2,-24.5,
  -24.3,-24.6,-24.4,-24.2,-24.5,-24.7,-24.4,-24.3,-24.6,-24.4,
  -24.2,-24.5,-24.3,-24.6,-24.4,-24.2,-24.5,-24.3,-24.6,-24.4,
  -24.5,-24.3,-24.1,-24.4,-24.6,-24.3,-24.2,-24.5,-24.3,-24.1,
  -24.4,-24.2,-24.5,-24.3,-24.1,-24.4,-24.6,-24.3,-24.2,-24.4,
  -24.2,-24.5,-24.3,-24.1,-24.4,-24.2,-24.5,-24.3,-24.1,-24.3,
  -24.4,-24.2,-24.0,-24.3,-24.5,-24.2,-24.1,-24.4,-24.2,-24.0,
  -24.3,-24.1,-24.4,-24.0,-23.8,-24.2,-24.4,-24.1,-24.3,-24.0,
  -24.3,-24.2,-24.4,-24.1,-24.3,-24.5,-24.2,-24.0,-24.3,-24.1,
  -24.3,-24.0,-24.2,-24.4,-24.1,-24.3,-24.2,-24.0,-24.2,-24.1,
  -24.3,-24.0,-24.2,-23.9,-24.1,-24.3,-24.0,-24.2,-23.9,-23.1
];

var diff28 = [
  -27.1,-28.1,-27.8,-27.6,-27.6,-27.6,-27.6,-27.6,-27.6,-27.6,
  -27.6,-27.5,-27.5,-27.6,-27.6,-27.5,-27.5,-27.5,-27.4,-27.3,
  -27.2,-27.3,-27.4,-27.5,-27.6,-27.6,-27.5,-27.5,-27.6,-27.5,
  -27.6,-27.5,-27.6,-27.7,-27.6,-27.5,-27.6,-27.6,-27.7,-27.6,
  -27.5,-27.6,-27.4,-27.6,-27.5,-27.3,-27.5,-27.6,-27.4,-27.6,
  -27.5,-27.7,-27.6,-27.4,-27.6,-27.8,-27.6,-27.7,-27.9,-27.7,
  -27.8,-28.0,-28.1,-28.3,-28.0,-27.7,-27.9,-28.1,-27.8,-27.6,
  -27.7,-27.5,-27.8,-27.6,-27.7,-27.4,-27.6,-27.8,-27.5,-27.7,
  -27.6,-27.8,-27.5,-27.4,-27.7,-27.6,-27.5,-27.7,-27.6,-27.4,
  -27.6,-27.9,-27.7,-27.5,-27.8,-27.6,-27.9,-27.7,-27.5,-27.8,
  -27.6,-27.9,-27.7,-27.5,-27.8,-27.9,-27.6,-27.8,-27.5,-27.7,
  -27.9,-27.6,-27.8,-27.6,-27.5,-27.7,-27.9,-27.6,-27.8,-27.7,
  -27.5,-27.8,-27.6,-27.7,-27.9,-27.6,-27.5,-27.8,-27.6,-27.7,
  -27.8,-27.6,-27.5,-27.7,-27.9,-27.6,-27.8,-27.7,-27.5,-27.6,
  -27.8,-27.6,-27.7,-27.9,-27.6,-27.5,-27.7,-27.8,-27.6,-27.4,
  -27.6,-27.7,-27.5,-27.6,-27.4,-27.5,-27.6,-27.3,-27.5,-27.4,
  -27.3,-27.5,-27.1,-26.7,-26.4,-26.2,-26.5,-26.8,-26.9,-27.0,
  -27.1,-26.9,-27.0,-27.2,-26.9,-27.1,-26.8,-27.0,-26.8,-26.9,
  -27.0,-26.7,-26.9,-26.8,-26.6,-26.9,-26.7,-26.5,-26.8,-26.6,
  -26.7,-26.4,-26.8,-26.5,-26.7,-26.3,-26.6,-26.4,-26.2,-25.9
];

var diff315 = [
  -28.9,-31.0,-30.9,-30.8,-30.9,-30.9,-30.8,-30.8,-30.8,-30.8,
  -30.8,-30.9,-30.9,-30.8,-30.8,-30.7,-30.7,-30.7,-30.6,-30.5,
  -30.2,-30.2,-30.4,-30.6,-30.7,-30.8,-30.8,-30.7,-30.7,-30.8,
  -30.8,-30.7,-30.8,-30.9,-30.8,-30.7,-30.8,-30.8,-30.9,-30.8,
  -30.6,-30.8,-30.7,-30.8,-30.6,-30.7,-30.8,-30.7,-30.8,-30.7,
  -30.8,-30.9,-30.7,-30.8,-30.9,-30.8,-31.0,-30.9,-31.1,-30.9,
  -31.0,-31.2,-31.4,-31.6,-31.3,-31.0,-31.2,-31.5,-31.3,-31.0,
  -30.9,-31.1,-30.8,-30.9,-31.0,-30.8,-30.9,-31.1,-30.8,-30.9,
  -31.0,-30.8,-30.9,-30.7,-30.9,-31.0,-30.8,-30.9,-30.7,-30.8,
  -30.9,-31.1,-30.8,-30.9,-31.0,-30.8,-31.2,-30.9,-30.8,-31.0,
  -30.9,-31.1,-30.8,-30.7,-30.9,-31.0,-30.8,-31.1,-30.9,-30.8,
  -31.0,-30.9,-30.7,-30.8,-31.0,-30.9,-31.1,-30.8,-30.9,-31.0,
  -30.8,-30.9,-31.1,-30.9,-30.8,-31.0,-30.9,-30.7,-30.9,-31.0,
  -30.8,-30.9,-31.0,-30.8,-30.7,-30.9,-31.0,-30.8,-30.9,-30.8,
  -30.9,-31.0,-30.8,-30.7,-30.9,-31.0,-30.8,-30.9,-30.7,-30.8,
  -30.9,-30.8,-30.6,-30.8,-30.9,-30.7,-30.8,-30.6,-30.7,-30.5,
  -30.4,-30.2,-29.8,-29.2,-28.8,-28.7,-29.0,-29.3,-29.6,-29.7,
  -29.8,-29.9,-30.0,-29.8,-29.9,-30.1,-29.8,-29.9,-29.7,-29.8,
  -29.9,-29.7,-29.8,-29.6,-29.8,-29.5,-29.7,-29.4,-29.6,-29.5,
  -29.4,-29.6,-29.3,-29.5,-29.2,-29.4,-29.0,-29.3,-28.9,-28.2
];

// legend order = drawing order
var seriesNames = ['Full (dB)', '-3.5(dB)', '-7(dB)', '-10.5(dB)', '-14(dB)', '-17.5(dB)',
  '-21(dB)', '-24.5(dB)', '-28(dB)', '-31.5(dB)', 'dif-full', 'dif-3.5', 'diff-7',
  'diff-10.5', 'diff-14', 'diff-17.5', 'diff-21', 'diff-24.5', 'diff-28', 'diff-31.5'];
var seriesValues = [fullDb, m35Db, m7Db, m105Db, m14Db, m175Db, m21Db, m245Db, m28Db, m315Db,
  difFull, dif35, diff7, diff105, diff14, diff175, diff21, diff245, diff28, diff315];
var seriesColors = ['#5B9BD5', '#ED7D31', '#A5A5A5', '#FFC000', '#4472C4', '#70AD47',
  '#255E91', '#9E480E', '#636363', '#997300', '#264478', '#43682B', '#7CAFDD',
  '#F1975A', '#B7B7B7', '#FFCD33', '#698ED0', '#8CC168', '#327DC2', '#D26012'];

var yTicks = d3.range(-150, 11, 10);
var xLabels = [10, 100, 1000, 10000];

var W = 1608, H = 1142;
var svg = d3.select('#chart');

// chart area background + border
svg.append('rect')
  .attr('x', 0.5).attr('y', 0.5)
  .attr('width', W - 1).attr('height', H - 1)
  .attr('fill', '#fff')
  .attr('stroke', '#d9d9d9');

var x = d3.scaleLog().domain([10, 10000]).range([42, 1578]);
var y = d3.scaleLinear().domain([-150, 10]).range([1095.8, 48.7]);

var grid = svg.append('g').attr('shape-rendering', 'crispEdges');

// horizontal gridlines every 2 (darker every 10)
grid.selectAll('line.hmin')
  .data(d3.range(-150, 11, 2))
  .enter().append('line')
  .attr('x1', x(10)).attr('x2', x(10000))
  .attr('y1', d => Math.round(y(d)) + 0.5).attr('y2', d => Math.round(y(d)) + 0.5)
  .attr('stroke', d => d % 10 === 0 ? '#bfbfbf' : '#d9d9d9')
  .attr('stroke-width', 1);

// vertical log gridlines
grid.selectAll('line.v')
  .data(x.ticks())
  .enter().append('line')
  .attr('x1', d => Math.round(x(d)) + 0.5).attr('x2', d => Math.round(x(d)) + 0.5)
  .attr('y1', y(10)).attr('y2', y(-150))
  .attr('stroke', '#c6c6c6')
  .attr('stroke-width', 1);

// y axis labels
svg.append('g').selectAll('text')
  .data(yTicks)
  .enter().append('text')
  .attr('x', 30)
  .attr('y', d => y(d))
  .attr('dy', '0.35em')
  .attr('text-anchor', 'end')
  .style('font-size', '11.5px')
  .text(d => d);

// x axis labels (axis crosses at 0)
svg.append('g').selectAll('text')
  .data(xLabels)
  .enter().append('text')
  .attr('x', d => x(d))
  .attr('y', y(0) + 16)
  .attr('dy', '0.35em')
  .attr('text-anchor', 'middle')
  .style('font-size', '11.5px')
  .text(d => d);

// series lines
var line = d3.line()
  .x((d, i) => x(freqHz[i]))
  .y(d => y(d));

svg.append('g').selectAll('path')
  .data(seriesValues)
  .enter().append('path')
  .attr('d', d => line(d))
  .attr('fill', 'none')
  .attr('stroke', (d, i) => seriesColors[i])
  .attr('stroke-width', 2)
  .attr('stroke-linejoin', 'round')
  .attr('stroke-linecap', 'round');

// title
svg.append('text')
  .attr('x', 804)
  .attr('y', 22)
  .attr('dy', '0.35em')
  .attr('text-anchor', 'middle')
  .style('font-size', '17px')
  .text('Chart Title');

// legend along the bottom, centred
var legend = svg.append('g').attr('transform', 'translate(0,1122)');
var items = legend.selectAll('g')
  .data(seriesNames)
  .enter().append('g');

items.append('line')
  .attr('x1', 0).attr('x2', 27)
  .attr('y1', 0).attr('y2', 0)
  .attr('stroke', (d, i) => seriesColors[i])
  .attr('stroke-width', 2.5);

items.append('text')
  .attr('x', 29)
  .attr('y', 0)
  .attr('dy', '0.35em')
  .style('font-size', '10.8px')
  .text(d => d);

var gap = 6;
var offsets = [];
var total = 0;
items.each(function () {
  var w = 29 + d3.select(this).select('text').node().getComputedTextLength();
  offsets.push(total);
  total += w + gap;
});
total -= gap;
var startX = 805 - total / 2;
items.attr('transform', (d, i) => 'translate(' + (startX + offsets[i]) + ',0)');
</script>
</body>
</html>
